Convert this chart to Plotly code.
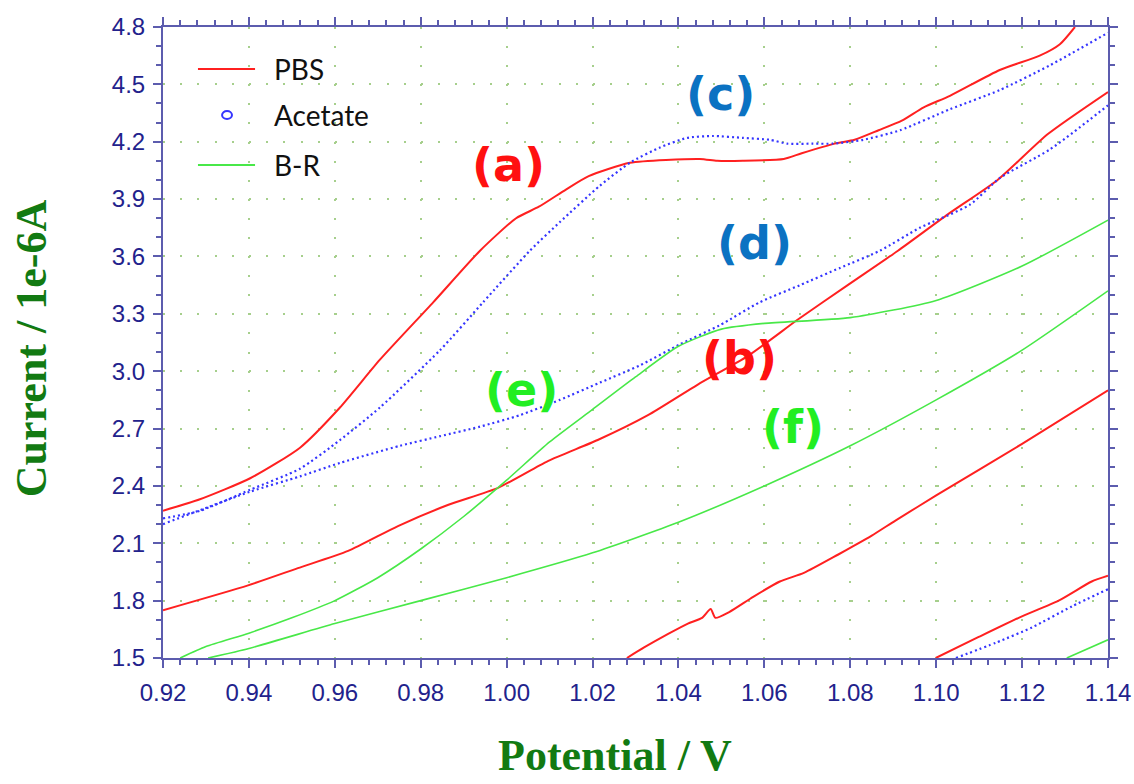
import plotly.graph_objects as go

# ---- PBS (red) scan segments: potential (V) and current (1e-6 A)
pbs_a_v = [0.920, 0.9286, 0.9403, 0.9519, 0.9612, 0.9705, 0.9829, 0.9938, 1.0022, 1.0075,
           1.0138, 1.0191, 1.0287, 1.0450, 1.0490, 1.0550, 1.0645, 1.0687, 1.0764, 1.0810,
           1.0866, 1.0920, 1.0971, 1.1032, 1.1148, 1.1241, 1.1288, 1.1323]
pbs_a_i = [2.27, 2.33, 2.44, 2.60, 2.81, 3.06, 3.36, 3.63, 3.80, 3.86,
           3.95, 4.02, 4.09, 4.11, 4.10, 4.10, 4.11, 4.14, 4.19, 4.21,
           4.26, 4.31, 4.38, 4.44, 4.575, 4.65, 4.71, 4.80]

pbs_b_v = [0.920, 0.9398, 0.9514, 0.9631, 0.9747, 0.9863, 0.9980, 1.0096, 1.0212, 1.0329,
           1.0445, 1.0562, 1.0678, 1.0794, 1.0911, 1.1027, 1.1143, 1.1260, 1.1400]
pbs_b_i = [1.75, 1.88, 1.97, 2.06, 2.19, 2.30, 2.39, 2.53, 2.64, 2.77,
           2.93, 3.08, 3.27, 3.45, 3.63, 3.82, 4.00, 4.24, 4.46]

pbs_c_v = [1.0280, 1.0320, 1.0376, 1.0422, 1.0455, 1.0475, 1.0486, 1.0518, 1.0574, 1.0636,
           1.0692, 1.0771, 1.0811, 1.0850, 1.0906, 1.1000, 1.1200, 1.1400]
pbs_c_i = [1.50, 1.555, 1.626, 1.68, 1.71, 1.756, 1.71, 1.74, 1.82, 1.90,
           1.945, 2.04, 2.09, 2.14, 2.22, 2.35, 2.62, 2.90]

pbs_d_v = [1.0999, 1.1099, 1.1192, 1.1285, 1.1362, 1.1400]
pbs_d_i = [1.50, 1.61, 1.71, 1.80, 1.90, 1.93]

# ---- Acetate (blue, dotted)
ace_a_v = [0.920, 0.9286, 0.9403, 0.9519, 0.9612, 0.9705, 0.9845, 0.9945, 1.0054, 1.0124,
           1.0217, 1.0287, 1.0357, 1.0420, 1.0480, 1.0550, 1.0613, 1.0653, 1.0713, 1.0760,
           1.0830, 1.0916, 1.1032, 1.1148, 1.1265, 1.1400]
ace_a_i = [2.23, 2.27, 2.38, 2.49, 2.64, 2.81, 3.11, 3.36, 3.63, 3.78,
           3.97, 4.09, 4.17, 4.22, 4.23, 4.22, 4.21, 4.19, 4.19, 4.19,
           4.21, 4.26, 4.37, 4.47, 4.60, 4.77]

ace_b_v = [0.920, 0.9403, 0.9519, 0.9612, 0.9752, 0.9845, 0.9938, 1.0031, 1.0124, 1.0217,
           1.0310, 1.0403, 1.0496, 1.0589, 1.0683, 1.0776, 1.0869, 1.0962, 1.1078, 1.1148,
           1.1265, 1.1400]
ace_b_i = [2.20, 2.37, 2.45, 2.52, 2.61, 2.66, 2.71, 2.77, 2.85, 2.94,
           3.03, 3.14, 3.24, 3.36, 3.45, 3.54, 3.63, 3.75, 3.87, 4.01,
           4.16, 4.39]

ace_c_v = [1.1046, 1.1139, 1.1223, 1.1316, 1.1400]
ace_c_i = [1.50, 1.58, 1.66, 1.77, 1.86]

# ---- B-R (green)
br_a_v = [0.9240, 0.9300, 0.9400, 0.9500, 0.9600, 0.9700, 0.9800, 0.9900, 1.0000, 1.0100,
          1.0200, 1.0300, 1.0400, 1.0500, 1.0600, 1.0800, 1.1000, 1.1200, 1.1400]
br_a_i = [1.50, 1.56, 1.63, 1.71, 1.80, 1.92, 2.07, 2.24, 2.43, 2.63,
          2.80, 2.97, 3.13, 3.22, 3.25, 3.28, 3.37, 3.55, 3.79]

br_b_v = [0.9305, 0.9400, 0.9600, 0.9800, 1.0000, 1.0200, 1.0400, 1.0600, 1.0800, 1.1000,
          1.1200, 1.1400]
br_b_i = [1.50, 1.55, 1.68, 1.80, 1.92, 2.05, 2.21, 2.40, 2.61, 2.85,
          3.11, 3.42]

br_c_v = [1.1304, 1.1400]
br_c_i = [1.50, 1.595]

# ---- curve labels
label_text = ["(a)", "(b)", "(c)", "(d)", "(e)", "(f)"]
label_v = [1.0005, 1.0543, 1.0497, 1.0578, 1.0035, 1.0667]
label_i = [4.08, 3.07, 4.45, 3.67, 2.90, 2.71]
label_color = ["#ff1010", "#ff1010", "#0b72c2", "#0b72c2", "#22ee22", "#22ee22"]

# ---- axis ranges and titles
x_range = [0.92, 1.14]
y_range = [1.5, 4.8]
x_title = "Potential / V"
y_title = "Current / 1e-6A"

RED = "#ff2020"
BLUE = "#3535ff"
GREEN = "#48e848"
AXIS = "#5c5cae"
TICKTXT = "#22228c"
TITLE = "#127a12"
GRIDDOT = "#a6cf8c"

fig = go.Figure()

for v, i in [(pbs_a_v, pbs_a_i), (pbs_b_v, pbs_b_i), (pbs_c_v, pbs_c_i), (pbs_d_v, pbs_d_i)]:
    fig.add_trace(go.Scatter(x=v, y=i, mode="lines",
                             line=dict(color=RED, width=2, shape="spline", smoothing=0.6),
                             name="PBS", legendgroup="PBS", showlegend=False))
for v, i in [(ace_a_v, ace_a_i), (ace_b_v, ace_b_i), (ace_c_v, ace_c_i)]:
    fig.add_trace(go.Scatter(x=v, y=i, mode="lines",
                             line=dict(color=BLUE, width=2.2, dash="2px,3px", shape="spline", smoothing=0.6),
                             name="Acetate", legendgroup="Acetate", showlegend=False))
for v, i in [(br_a_v, br_a_i), (br_b_v, br_b_i), (br_c_v, br_c_i)]:
    fig.add_trace(go.Scatter(x=v, y=i, mode="lines",
                             line=dict(color=GREEN, width=1.6, shape="spline", smoothing=0.6),
                             name="B-R", legendgroup="B-R", showlegend=False))

for t, v, i, c in zip(label_text, label_v, label_i, label_color):
    fig.add_annotation(x=v, y=i, text=t, showarrow=False,
                       font=dict(family="DejaVu Sans", size=46, color=c, weight="bold"))

# legend drawn in the upper-left corner of the plot area
legend_rows = [("PBS", RED, "line", 0.9334), ("Acetate", BLUE, "circle", 0.8605), ("B-R", GREEN, "line", 0.7813)]
for name, col, kind, yy in legend_rows:
    if kind == "line":
        fig.add_shape(type="line", xref="paper", yref="paper", x0=0.037, x1=0.0974, y0=yy, y1=yy,
                      line=dict(color=col, width=2.2))
    else:
        fig.add_shape(type="circle", xref="paper", yref="paper", x0=0.0625, x1=0.073,
                      y0=yy - 0.0063, y1=yy + 0.0063, line=dict(color=col, width=2))
    fig.add_annotation(xref="paper", yref="paper", x=0.1153, y=yy, xanchor="left", yanchor="middle",
                       text=name, showarrow=False, font=dict(family="Lato", size=28, color="#111111"))

# axis titles
title_font = dict(family="Liberation Serif", size=44, color=TITLE, weight="bold")
fig.add_annotation(xref="paper", yref="paper", x=0.478, y=-0.1965, xanchor="center", yanchor="bottom",
                   text=x_title, showarrow=False, font=title_font)
fig.add_annotation(xref="paper", yref="paper", x=-0.1397, y=0.491, xanchor="center", yanchor="middle",
                   text=y_title, textangle=-90, showarrow=False, font=title_font)

axis_common = dict(
    showline=True, linecolor=AXIS, linewidth=2, mirror="allticks",
    ticks="outside", ticklen=8, tickwidth=1.5, tickcolor=AXIS,
    tickfont=dict(family="Liberation Sans", size=24, color=TICKTXT),
    showgrid=True, gridcolor=GRIDDOT, gridwidth=2,
    zeroline=False,
)

fig.update_xaxes(range=x_range, dtick=0.02, tick0=0.92, tickformat=".2f",
                 minor=dict(dtick=0.004, ticklen=5, tickcolor=AXIS, ticks="outside", showgrid=False),
                 griddash="2px,17.09px", ticklabelstandoff=4,
                 **axis_common)
fig.update_yaxes(range=y_range, dtick=0.3, tick0=1.5, tickformat=".1f",
                 minor=dict(dtick=0.1, ticklen=5, tickcolor=AXIS, ticks="outside", showgrid=False),
                 griddash="2px,15.2px", ticklabelstandoff=3,
                 **axis_common)

fig.update_layout(
    width=1134, height=784,
    margin=dict(l=163, r=26, t=27, b=126, autoexpand=False),
    plot_bgcolor="white", paper_bgcolor="white",
    showlegend=False,
)

fig.write_html("out.html")
